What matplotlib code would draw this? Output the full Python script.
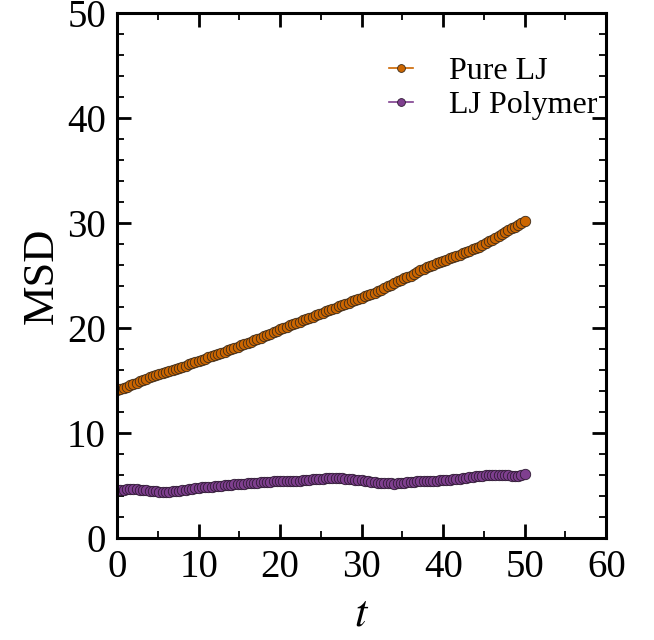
import numpy as np
import matplotlib
matplotlib.use("Agg")
import matplotlib.pyplot as plt
from matplotlib.ticker import MultipleLocator

# time axis: 0 .. 50 in steps of 0.4
t = np.linspace(0, 50, 126)

msd_pure_lj = [
    14.10, 14.18, 14.30, 14.42, 14.55,
    14.70, 14.80, 14.93, 15.05, 15.18,
    15.30, 15.40, 15.50, 15.60, 15.70,
    15.80, 15.90, 16.00, 16.10, 16.20,
    16.30, 16.42, 16.55, 16.66, 16.78,
    16.90, 17.00, 17.10, 17.20, 17.30,
    17.40, 17.52, 17.64, 17.75, 17.88,
    18.00, 18.12, 18.24, 18.36, 18.48,
    18.60, 18.72, 18.84, 18.96, 19.08,
    19.20, 19.34, 19.48, 19.62, 19.76,
    19.90, 20.02, 20.14, 20.26, 20.38,
    20.50, 20.62, 20.74, 20.86, 20.98,
    21.10, 21.22, 21.34, 21.46, 21.58,
    21.70, 21.82, 21.94, 22.06, 22.18,
    22.30, 22.42, 22.54, 22.66, 22.78,
    22.90, 23.02, 23.14, 23.26, 23.38,
    23.50, 23.66, 23.82, 23.98, 24.14,
    24.30, 24.44, 24.58, 24.72, 24.86,
    25.00, 25.16, 25.32, 25.48, 25.64,
    25.80, 25.92, 26.04, 26.16, 26.28,
    26.40, 26.52, 26.64, 26.76, 26.88,
    27.00, 27.12, 27.24, 27.36, 27.48,
    27.60, 27.76, 27.92, 28.08, 28.24,
    28.40, 28.58, 28.76, 28.94, 29.12,
    29.30, 29.48, 29.66, 29.84, 30.02,
    30.20,
]

msd_polymer = [
    4.60, 4.62, 4.63, 4.64, 4.65,
    4.66, 4.65, 4.63, 4.60, 4.55,
    4.52, 4.48, 4.45, 4.43, 4.42,
    4.41, 4.42, 4.45, 4.48, 4.52,
    4.57, 4.62, 4.67, 4.72, 4.76,
    4.80, 4.83, 4.86, 4.89, 4.92,
    4.95, 4.97, 5.00, 5.03, 5.06,
    5.09, 5.12, 5.15, 5.18, 5.20,
    5.22, 5.25, 5.28, 5.30, 5.32,
    5.34, 5.36, 5.38, 5.40, 5.41,
    5.42, 5.43, 5.44, 5.45, 5.46,
    5.47, 5.49, 5.51, 5.53, 5.56,
    5.59, 5.62, 5.65, 5.68, 5.71,
    5.74, 5.76, 5.75, 5.73, 5.71,
    5.68, 5.65, 5.62, 5.58, 5.54,
    5.50, 5.45, 5.40, 5.35, 5.32,
    5.30, 5.28, 5.26, 5.24, 5.22,
    5.20, 5.21, 5.24, 5.28, 5.32,
    5.35, 5.38, 5.41, 5.43, 5.45,
    5.46, 5.47, 5.48, 5.49, 5.50,
    5.51, 5.53, 5.56, 5.59, 5.62,
    5.66, 5.71, 5.76, 5.81, 5.85,
    5.89, 5.92, 5.95, 5.98, 6.00,
    6.01, 6.02, 6.02, 6.01, 6.00,
    5.98, 5.95, 5.92, 5.93, 6.00,
    6.12,
]

plt.rcParams['font.family'] = ['Liberation Serif', 'DejaVu Serif']
plt.rcParams['mathtext.fontset'] = 'stix'

fig = plt.figure(figsize=(6.54, 6.40), dpi=100)
ax = fig.add_axes([0.179, 0.159, 0.748, 0.821])

ax.plot(t, msd_pure_lj, '-o', color='#cc6600', markerfacecolor='#cc6600',
        markeredgecolor='#3a2a1a', markeredgewidth=0.6, markersize=7.5,
        linewidth=1.2, label='Pure LJ')
ax.plot(t, msd_polymer, '-o', color='#7f3f8f', markerfacecolor='#7f3f8f',
        markeredgecolor='#2e1a33', markeredgewidth=0.6, markersize=7.5,
        linewidth=1.2, label='LJ Polymer')

ax.set_xlim(0, 60)
ax.set_ylim(0, 50)
ax.xaxis.set_major_locator(MultipleLocator(10))
ax.xaxis.set_minor_locator(MultipleLocator(5))
ax.yaxis.set_major_locator(MultipleLocator(10))
ax.yaxis.set_minor_locator(MultipleLocator(2))

ax.tick_params(which='both', direction='in', top=True, right=True,
               labelsize=28, pad=8)
ax.tick_params(which='major', length=10, width=2)
ax.tick_params(which='minor', length=5, width=1.3)
for s in ax.spines.values():
    s.set_linewidth(2.2)

ax.set_xlabel('$t$', fontsize=32, labelpad=6)
ax.set_ylabel('MSD', fontsize=32, labelpad=4)

ax.legend(loc='upper right', frameon=False, fontsize=23, handlelength=0.75,
          markerscale=0.75, bbox_to_anchor=(1.02, 0.953), handletextpad=1.1,
          labelspacing=0.14, borderaxespad=0.2)

fig.savefig('out.png', dpi=100)
